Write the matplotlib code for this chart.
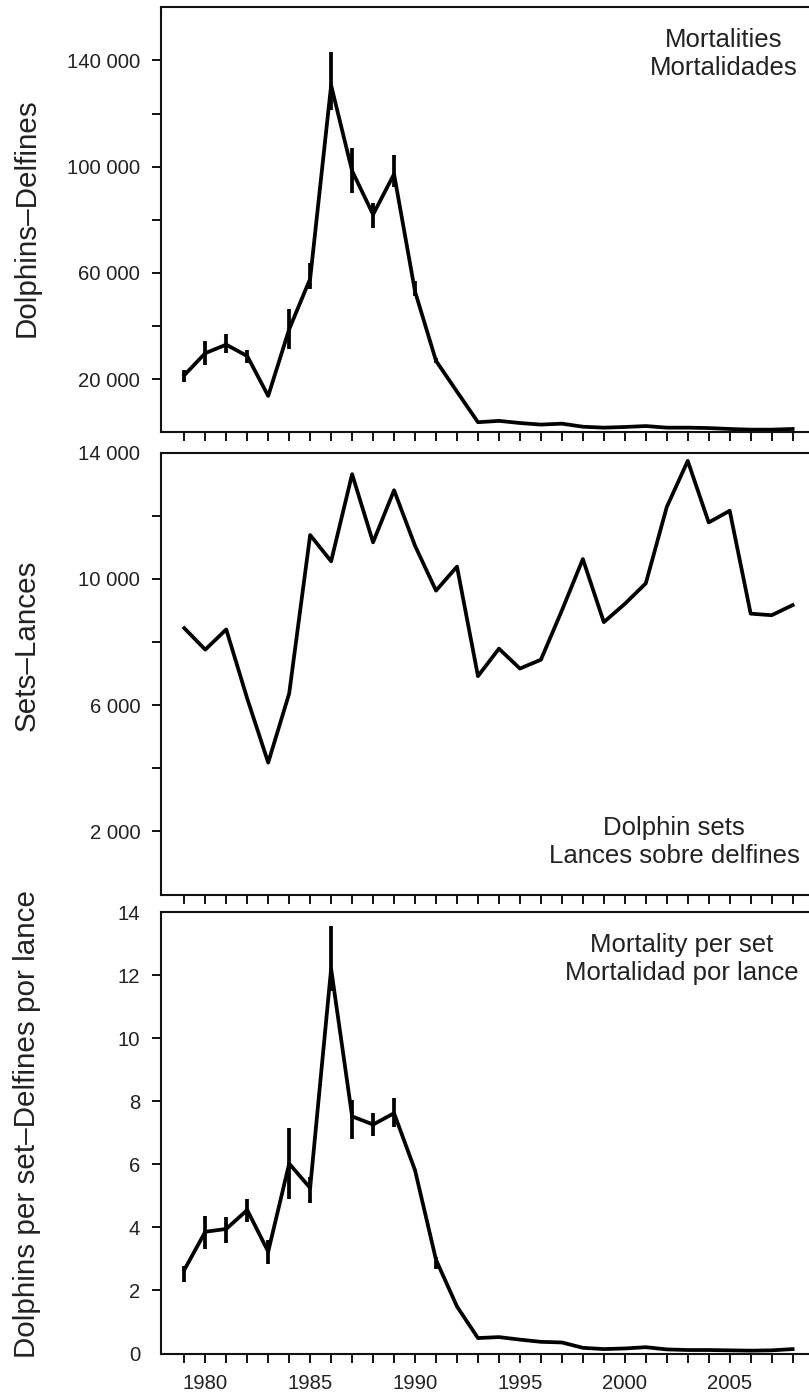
import numpy as np
import matplotlib.pyplot as plt

plt.rcParams['font.family'] = ['Liberation Sans', 'DejaVu Sans']

# Data
years = np.arange(1979, 2009)

mortality = [21500, 29800, 33000, 28700, 13700, 38800, 57800, 130600, 98400, 82000,
             97200, 53000, 26900, 15300, 3800, 4300, 3500, 2900, 3250, 2100,
             1750, 2000, 2350, 1750, 1750, 1600, 1250, 1000, 1000, 1250]
mortality_lo = [19100, 25400, 29700, 26000, np.nan, 31500, 54000, 121300, 90200, 76900,
                92500, 51200, 26000] + [np.nan] * 17
mortality_hi = [23500, 34400, 36900, 30900, np.nan, 46300, 63700, 143100, 106900, 86300,
                104400, 56900, 28000] + [np.nan] * 17

sets = [8440, 7760, 8400, 6210, 4180, 6370, 11390, 10560, 13320, 11160,
        12810, 11050, 9630, 10390, 6920, 7790, 7160, 7440, 9000, 10630,
        8630, 9210, 9860, 12280, 13740, 11790, 12160, 8900, 8850, 9170]

per_set = [2.65, 3.86, 3.95, 4.55, 3.23, 6.02, 5.25, 12.2, 7.52, 7.26,
           7.62, 5.81, 2.97, 1.49, 0.49, 0.52, 0.44, 0.37, 0.35, 0.18,
           0.14, 0.16, 0.20, 0.13, 0.11, 0.11, 0.10, 0.09, 0.10, 0.14]
per_set_lo = [2.28, 3.31, 3.51, 4.16, 2.84, 4.89, 4.76, 11.5, 6.81, 6.89,
              7.18, np.nan, 2.67] + [np.nan] * 17
per_set_hi = [2.76, 4.36, 4.32, 4.90, 3.60, 7.16, 5.60, 13.56, 8.05, 7.62,
              8.11, np.nan, 3.07] + [np.nan] * 17

top_ticks = [20000, 40000, 60000, 80000, 100000, 120000, 140000]
top_labels = ['20 000', '', '60 000', '', '100 000', '', '140 000']
mid_ticks = [2000, 4000, 6000, 8000, 10000, 12000, 14000]
mid_labels = ['2 000', '', '6 000', '', '10 000', '', '14 000']
bot_ticks = [0, 2, 4, 6, 8, 10, 12, 14]
bot_labels = ['0', '2', '4', '6', '8', '10', '12', '14']

W, H = 809, 1394
TXT = '#222222'

fig = plt.figure(figsize=(W / 100, H / 100), dpi=100)
fig.patch.set_facecolor('white')


def panel(top, bottom):
    left = 161 / W
    return fig.add_axes([left, 1 - bottom / H, 1 - left, (bottom - top) / H])


ax1 = panel(7.3, 432.3)
ax2 = panel(452.7, 894.5)
ax3 = panel(912.0, 1353.5)

for ax in (ax1, ax2, ax3):
    ax.set_xlim(1977.89, 2008.78)
    ax.set_xticks(years)
    ax.set_xticklabels([str(y) if y % 5 == 0 else '' for y in years])
    ax.spines['right'].set_visible(False)
    for s in ('left', 'top', 'bottom'):
        ax.spines[s].set_linewidth(1.5)
        ax.spines[s].set_color('#111111')
    ax.tick_params(direction='out', length=6.5, width=1.4, pad=8.5,
                   labelsize=14.6, colors='#111111', labelcolor=TXT)

ax1.tick_params(axis='x', labelbottom=False)
ax2.tick_params(axis='x', labelbottom=False)

# Mortalities
m_lo = np.array(mortality_lo)
m_hi = np.array(mortality_hi)
ok = ~np.isnan(m_lo)
ax1.vlines(years[ok], m_lo[ok], m_hi[ok], color='black', lw=2.7)
ax1.plot(years, mortality, color='black', lw=2.7)
ax1.set_ylim(0, 160000)
ax1.set_yticks(top_ticks)
ax1.set_yticklabels(top_labels)

# Dolphin sets
ax2.plot(years, sets, color='black', lw=2.7)
ax2.set_ylim(0, 14000)
ax2.set_yticks(mid_ticks)
ax2.set_yticklabels(mid_labels)
ax2.yaxis.get_major_ticks()[-1].tick1line.set_visible(False)

# Mortality per set
p_lo = np.array(per_set_lo)
p_hi = np.array(per_set_hi)
ok = ~np.isnan(p_lo)
ax3.vlines(years[ok], p_lo[ok], p_hi[ok], color='black', lw=2.7)
ax3.plot(years, per_set, color='black', lw=2.7)
ax3.set_ylim(0, 14)
ax3.set_yticks(bot_ticks)
ax3.set_yticklabels(bot_labels)
ax3.yaxis.get_major_ticks()[0].tick1line.set_visible(False)
ax3.yaxis.get_major_ticks()[-1].tick1line.set_visible(False)

# Axis titles
fig.text(27 / W, 1 - 218 / H, 'Dolphins\u2013Delfines', rotation=90,
         ha='center', va='center', fontsize=21.3, color=TXT)
fig.text(27 / W, 1 - 645 / H, 'Sets\u2013Lances', rotation=90,
         ha='center', va='center', fontsize=21.3, color=TXT)
fig.text(27 / W, 1 - 1124 / H, 'Dolphins per set\u2013Delfines por lance', rotation=90,
         ha='center', va='center', fontsize=21.3, color=TXT)

# Panel captions
fig.text(724 / W, 1 - 54 / H, 'Mortalities\nMortalidades', ha='center', va='center',
         multialignment='center', fontsize=18.5, linespacing=1.25, color=TXT)
fig.text(674 / W, 1 - 842 / H, 'Dolphin sets\nLances sobre delfines', ha='center',
         va='center', multialignment='center', fontsize=18.5, linespacing=1.25, color=TXT)
fig.text(682 / W, 1 - 959 / H, 'Mortality per set\nMortalidad por lance', ha='center',
         va='center', multialignment='center', fontsize=18.5, linespacing=1.25, color=TXT)

fig.savefig('out.png', dpi=100, facecolor='white')
